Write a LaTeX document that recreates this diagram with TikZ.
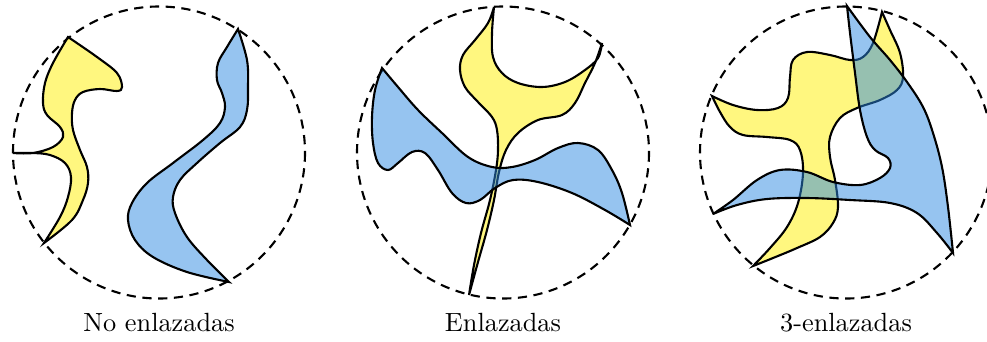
\documentclass[tikz,border=0pt]{standalone}
\usepackage{xcolor}
\usepackage{tikz}
\definecolor{regyellow}{RGB}{255,240,0}
\definecolor{regblue}{RGB}{45,137,225}

\begin{document}
\begin{tikzpicture}[x=0.38pt, y=-0.38pt,
    disk/.style={draw, thick, dash pattern=on 3.5pt off 2.5pt},
    yellowreg/.style={draw, thick, fill=regyellow, fill opacity=0.5},
    bluereg/.style={draw, thick, fill=regblue, fill opacity=0.5},
    caption/.style={anchor=base, font=\normalsize}
]
\useasboundingbox (0,0) rectangle (987,341);

% --- No enlazadas ---
\coordinate (c1) at (159,152.5);
\coordinate (ya1) at (68,37);
\coordinate (yb1) at (44,243);
\coordinate (yc1) at (13,153);
\coordinate (bd1) at (238,29);
\coordinate (be1) at (229,282);
\draw[disk] (c1) circle (146);
\path[yellowreg] plot[smooth, tension=0.6] coordinates {(yc1) (33,153) (53,147) (63,137) (60,127) (47,115) (43,103) (45,83) (53,63) (ya1)}
    -- plot[smooth, tension=0.6] coordinates {(ya1) (97,57) (117,73) (122,87) (117,91) (100,89) (83,92) (75,100) (72,113) (73,130) (80,150) (87,167) (88,183) (83,200) (72,220) (yb1)}
    -- plot[smooth, tension=0.6] coordinates {(yb1) (60,217) (68,197) (71,177) (65,163) (50,155) (33,153) (yc1)} -- cycle;
\path[bluereg] plot[smooth, tension=0.6] coordinates {(bd1) (227,47) (218,63) (217,80) (222,93) (225,107) (220,123) (203,140) (173,163) (147,183) (132,203) (128,220) (135,240) (153,257) (187,272) (be1)}
    -- plot[smooth, tension=0.6] coordinates {(be1) (207,260) (187,237) (175,213) (173,197) (180,180) (197,163) (220,143) (240,127) (247,110) (248,87) (247,60) (bd1)} -- cycle;
\node[caption] (lbl1) at (159,331) {No enlazadas};

% --- Enlazadas ---
\coordinate (c2) at (503,152.5);
\coordinate (yf2) at (494,7);
\coordinate (yg2) at (602,43);
\coordinate (yh2) at (469,295);
\coordinate (bi2) at (382,68);
\coordinate (bj2) at (630,225);
\draw[disk] (c2) circle (146);
\path[yellowreg] plot[smooth, tension=0.6] coordinates {(yf2) (488,23) (475,40) (463,55) (460,70) (465,87) (478,102) (492,117) (497,130) (498,150) (496,170) (490,200) (481,233) (474,265) (yh2)}
    -- plot[smooth, tension=0.6] coordinates {(yh2) (478,262) (487,230) (494,200) (499,172) (506,150) (518,133) (538,120) (562,115) (575,103) (585,83) (595,63) (yg2)}
    -- plot[smooth, tension=0.6] coordinates {(yg2) (598,58) (585,70) (565,82) (542,87) (518,83) (502,73) (493,57) (492,33) (yf2)} -- cycle;
\path[bluereg] plot[smooth, tension=0.6] coordinates {(bi2) (398,87) (418,110) (442,133) (468,157) (492,167) (512,167) (535,160) (558,148) (578,143) (598,150) (612,170) (622,193) (bj2)}
    -- plot[smooth, tension=0.6] coordinates {(bj2) (605,210) (572,193) (538,182) (513,180) (495,188) (480,200) (466,203) (452,193) (438,170) (425,153) (412,152) (398,163) (388,170) (378,163) (373,143) (372,117) (375,90) (bi2)} -- cycle;
\node[caption] (lbl2) at (503,331) {Enlazadas};

% --- 3-enlazadas ---
\coordinate (c3) at (846,152.5);
\coordinate (yn3) at (882,12);
\coordinate (yo3) at (712,96);
\coordinate (yp3) at (753,266);
\coordinate (bk3) at (847,6);
\coordinate (bl3) at (953,253);
\coordinate (bm3) at (713,214);
\draw[disk] (c3) circle (146);
\path[yellowreg] plot[smooth, tension=0.6] coordinates {(yn3) (890,30) (900,53) (903,77) (897,90) (880,100) (857,108) (840,118) (830,137) (830,157) (835,180) (838,207) (833,223) (820,237) (797,248) (773,258) (yp3)}
    -- plot[smooth, tension=0.6] coordinates {(yp3) (770,248) (787,227) (798,203) (803,173) (800,150) (790,140) (767,137) (743,135) (730,127) (720,112) (yo3)}
    -- plot[smooth, tension=0.6] coordinates {(yo3) (733,105) (757,110) (778,108) (788,98) (790,77) (793,60) (807,52) (830,55) (850,60) (863,57) (873,43) (yn3)} -- cycle;
\path[bluereg] plot[smooth, tension=0.6] coordinates {(bk3) (870,37) (890,60) (907,82) (923,107) (933,133) (942,167) (948,207) (bl3)}
    -- plot[smooth, tension=0.6] coordinates {(bl3) (937,233) (917,213) (890,203) (850,200) (807,198) (767,199) (737,205) (bm3)}
    -- plot[smooth, tension=0.6] coordinates {(bm3) (733,200) (757,180) (780,170) (807,172) (833,182) (860,185) (880,178) (890,168) (888,158) (875,150) (867,137) (860,110) (855,73) (850,33) (bk3)} -- cycle;
\node[caption] (lbl3) at (846,331) {3-enlazadas};
\end{tikzpicture}
\end{document}
